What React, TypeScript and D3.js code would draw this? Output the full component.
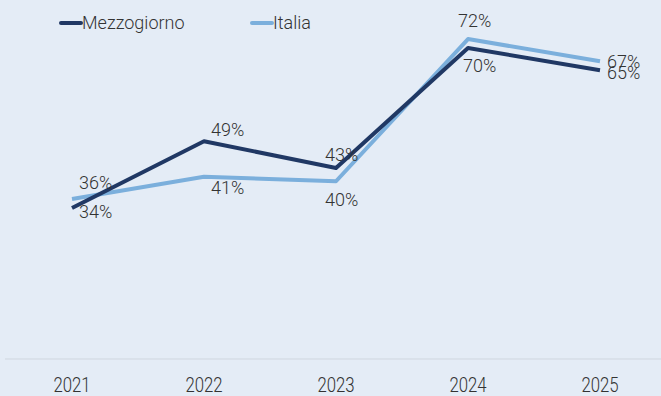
import React from 'react'
import * as d3 from 'd3'

const years = ['2021', '2022', '2023', '2024', '2025']
const mezzogiorno = [34, 49, 43, 70, 65]
const italia = [36, 41, 40, 72, 67]

const COLORS = { mezzogiorno: '#203864', italia: '#7bafdc' }

// label placement per point: dx from point, dy (baseline) from point
const mezzLabelPos: Array<[number, number]> = [
  [7, 10],
  [7, -5],
  [-11, -7],
  [-5, 24],
  [7, 9],
]
const italiaLabelPos: Array<[number, number]> = [
  [7, -10],
  [7, 17],
  [-11, 25],
  [-10, -12],
  [7, 7],
]

const W = 661
const H = 396
const FONT = 'Roboto, sans-serif'
const TEXT = '#333333'

export default function App() {
  const x = d3.scaleBand<string>().domain(years).range([6, 666])
  const y = d3.scaleLinear().domain([0, 80]).range([359, 3.5])
  const cx = (d: string) => (x(d) as number) + x.bandwidth() / 2

  const line = d3
    .line<number>()
    .x((_, i) => cx(years[i]))
    .y((v) => y(v))

  const series = [
    { key: 'mezzogiorno', name: 'Mezzogiorno', values: mezzogiorno, pos: mezzLabelPos },
    { key: 'italia', name: 'Italia', values: italia, pos: italiaLabelPos },
  ]

  return (
    <svg
      width={W}
      height={H}
      style={{ position: 'absolute', left: 0, top: 0, display: 'block' }}
    >
      <rect x={0} y={0} width={W} height={H} fill="#e4ecf6" />
      <line x1={5} x2={W} y1={y(0)} y2={y(0)} stroke="#cfd6df" strokeWidth={1} />
      {years.map((yr) => (
        <text
          key={yr}
          transform={`translate(${cx(yr)},392) scale(0.84,1)`}
          textAnchor="middle"
          fontFamily={FONT}
          fontSize={20}
          fontWeight={300}
          fill={TEXT}
        >
          {yr}
        </text>
      ))}
      {[...series].reverse().map((s) => (
        <path
          key={s.key}
          d={line(s.values) as string}
          fill="none"
          stroke={COLORS[s.key as keyof typeof COLORS]}
          strokeWidth={4}
          strokeLinejoin="round"
        />
      ))}
      {series.map((s) =>
        s.values.map((v, i) => (
          <text
            key={s.key + i}
            x={cx(years[i]) + s.pos[i][0]}
            y={y(v) + s.pos[i][1]}
            fontFamily={FONT}
            fontSize={18}
            fontWeight={300}
            fill={TEXT}
          >
            {v}%
          </text>
        ))
      )}
      {series.map((s, i) => {
        const lx = 61 + i * 191
        return (
          <g key={s.key}>
            <line
              x1={lx}
              x2={lx + 20}
              y1={23}
              y2={23}
              stroke={COLORS[s.key as keyof typeof COLORS]}
              strokeWidth={4}
              strokeLinecap="round"
            />
            <text
              x={lx + 21}
              y={29}
              fontFamily={FONT}
              fontSize={18}
              fontWeight={300}
              fill={TEXT}
            >
              {s.name}
            </text>
          </g>
        )
      })}
    </svg>
  )
}
